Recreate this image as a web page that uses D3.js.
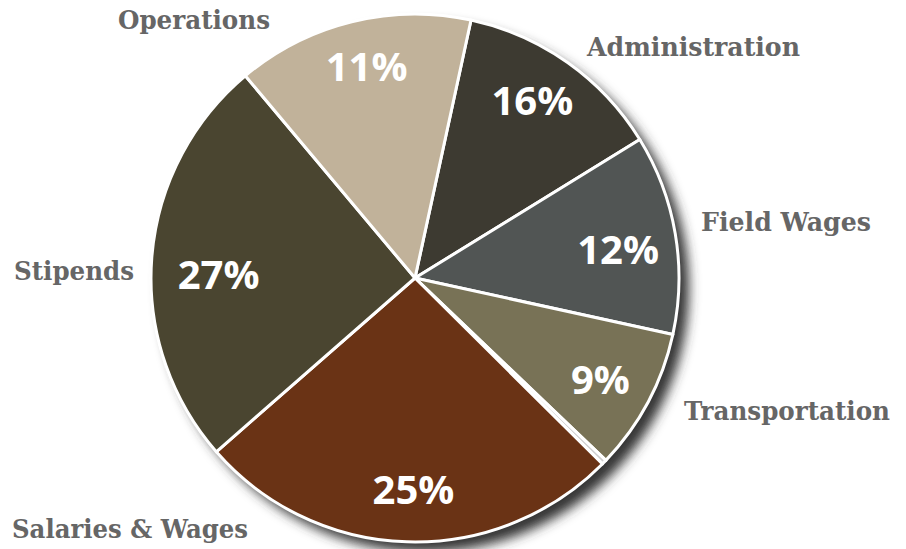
<!DOCTYPE html>
<html>
<head>
<meta charset="utf-8">
<script src="https://cdn.jsdelivr.net/npm/d3@7"></script>
<style>
  html, body { margin: 0; padding: 0; background: #fff; }
  svg { display: block; }
</style>
</head>
<body>
<div id="chart"></div>
<script>
// Budget split, clockwise from the Operations/Administration edge
const categories = ['Administration', 'Field Wages', 'Transportation', 'Other', 'Salaries & Wages', 'Stipends', 'Operations']
const shares = [12.8, 12.2, 8.7, 0.3, 26.1, 25.3, 14.5]
const percentLabels = ['16%', '12%', '9%', '', '25%', '27%', '11%']

const W = 906, H = 549
const cx = 415, cy = 278, R = 264
const startDeg = 12.25

const colors = {
  'Administration': '#3d3a31',
  'Field Wages': '#515554',
  'Transportation': '#787256',
  'Other': '#cfcfcf',
  'Salaries & Wages': '#6a3315',
  'Stipends': '#4a4530',
  'Operations': '#c1b29a'
}

// hand placed category labels (left x, baseline y, width)
const labelLayout = {
  'Operations': [118, 29, 152],
  'Administration': [587, 56, 213],
  'Field Wages': [701, 231, 170],
  'Transportation': [684, 420, 206],
  'Stipends': [14, 280, 120],
  'Salaries & Wages': [12, 538, 236]
}
// small nudges of the percent labels off the slice centroid
const pctNudge = {
  'Administration': [-4, -6],
  'Field Wages': [-4, 7],
  'Transportation': [0, 3],
  'Salaries & Wages': [5, 2],
  'Stipends': [13, 13],
  'Operations': [2, -8]
}

const data = categories.map((c, i) => ({ name: c, value: shares[i], pct: percentLabels[i] }))

const svg = d3.select('#chart').append('svg')
  .attr('width', W).attr('height', H)

const defs = svg.append('defs')
const f = defs.append('filter').attr('id', 'shadow')
  .attr('x', '-20%').attr('y', '-20%').attr('width', '140%').attr('height', '140%')
f.append('feGaussianBlur').attr('stdDeviation', 6)

const g = svg.append('g').attr('transform', `translate(${cx},${cy})`)

// drop shadow
g.append('circle')
  .attr('cx', 10).attr('cy', 10).attr('r', R)
  .attr('fill', '#363636')
  .attr('filter', 'url(#shadow)')

const a0 = startDeg * Math.PI / 180
const pie = d3.pie().sort(null).value(d => d.value)
  .startAngle(a0).endAngle(a0 + 2 * Math.PI)

const arc = d3.arc().innerRadius(0).outerRadius(R)
const labelArc = d3.arc().innerRadius(210).outerRadius(210)

const arcs = pie(data)

g.selectAll('path.slice')
  .data(arcs)
  .enter().append('path')
  .attr('class', 'slice')
  .attr('d', arc)
  .attr('fill', d => colors[d.data.name])
  .attr('stroke', '#fff')
  .attr('stroke-width', 3)
  .attr('stroke-linejoin', 'round')

g.selectAll('text.pct')
  .data(arcs.filter(d => d.data.pct))
  .enter().append('text')
  .attr('class', 'pct')
  .attr('transform', d => {
    const [x, y] = labelArc.centroid(d)
    const [nx, ny] = pctNudge[d.data.name] || [0, 0]
    return `translate(${x + nx},${y + ny})`
  })
  .attr('text-anchor', 'middle')
  .attr('dy', '0.36em')
  .attr('fill', '#fff')
  .attr('font-family', '"Open Sans", sans-serif')
  .attr('font-weight', 700)
  .attr('font-size', 40)
  .text(d => d.data.pct)

// category labels
svg.selectAll('text.cat')
  .data(categories.filter(c => labelLayout[c]))
  .enter().append('text')
  .attr('class', 'cat')
  .attr('x', c => labelLayout[c][0])
  .attr('y', c => labelLayout[c][1])
  .attr('textLength', c => labelLayout[c][2])
  .attr('lengthAdjust', 'spacingAndGlyphs')
  .attr('fill', '#666666')
  .attr('font-family', '"DejaVu Serif", serif')
  .attr('font-weight', 700)
  .attr('font-size', 26)
  .text(c => c)
</script>
</body>
</html>
